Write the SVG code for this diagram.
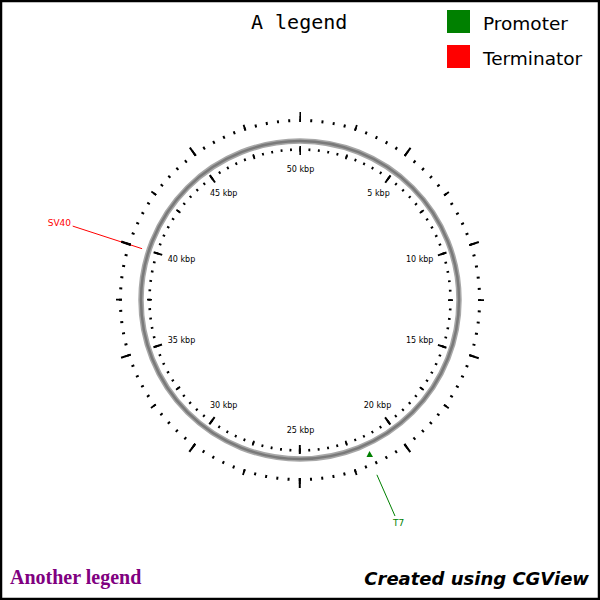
<svg xmlns="http://www.w3.org/2000/svg" width="600" height="600" viewBox="0 0 600 600">
<style>
.tk{fill:none;stroke:#000}
.lbl{font-family:"DejaVu Sans",sans-serif;font-size:8px;fill:#000;text-anchor:middle}
.leg{font-family:"DejaVu Sans",sans-serif;font-size:18.5px;fill:#000}
.feat{font-family:"DejaVu Sans",sans-serif;font-size:9px}
</style>
<rect x="0" y="0" width="600" height="600" fill="#fff"/>
<rect x="1" y="1" width="598" height="598" fill="none" stroke="#000" stroke-width="2.5"/>

<g id="legend-title">
<text x="251" y="29" font-family="'DejaVu Sans Mono',monospace" font-size="20" fill="#000">A legend</text>
</g>
<g id="legend-promoter">
<rect x="447" y="10" width="23" height="23" fill="#008000"/>
<text class="leg" x="483" y="30">Promoter</text>
</g>
<g id="legend-terminator">
<rect x="447" y="45" width="23" height="23" fill="#ff0000"/>
<text class="leg" x="483" y="65">Terminator</text>
</g>
<g id="legend-another">
<text x="10" y="584" font-family="'Liberation Serif',serif" font-weight="bold" font-size="20" fill="#800080">Another legend</text>
</g>
<g id="legend-created">
<text x="589" y="585" text-anchor="end" font-family="'DejaVu Sans',sans-serif" font-weight="bold" font-style="italic" font-size="18" fill="#000">Created using CGView</text>
</g>

<g id="backbone">
<circle cx="300" cy="300" r="159" fill="none" stroke="#a8a8a8" stroke-width="5.5"/>
<circle cx="300" cy="300" r="159" fill="none" stroke="#7a7a7a" stroke-width="2.5"/>
</g>

<g id="ticks" transform="rotate(-90 300 300)">
<circle class="tk" cx="300" cy="300" r="150.5" stroke-width="2.6" stroke-dasharray="1.9 7.55619" stroke-dashoffset="0.95"/>
<circle class="tk" cx="300" cy="300" r="150.5" stroke-width="5" stroke-dasharray="1.7 45.581" stroke-dashoffset="0.85"/>
<circle class="tk" cx="300" cy="300" r="149.5" stroke-width="9" stroke-dasharray="2 91.9336" stroke-dashoffset="1"/>
<circle class="tk" cx="300" cy="300" r="179.6" stroke-width="3" stroke-dasharray="2 9.2844" stroke-dashoffset="1"/>
<circle class="tk" cx="300" cy="300" r="181" stroke-width="6" stroke-dasharray="1.8 55.0629" stroke-dashoffset="0.9"/>
<circle class="tk" cx="300" cy="300" r="183" stroke-width="10" stroke-dasharray="2 112.9823" stroke-dashoffset="1"/>
</g>

<g id="tick-labels">
<text class="lbl" x="300.5" y="172">50 kbp</text>
<text class="lbl" x="378.5" y="196">5 kbp</text>
<text class="lbl" x="419.7" y="262">10 kbp</text>
<text class="lbl" x="419.7" y="343">15 kbp</text>
<text class="lbl" x="377.5" y="408">20 kbp</text>
<text class="lbl" x="300.5" y="433">25 kbp</text>
<text class="lbl" x="223.7" y="408">30 kbp</text>
<text class="lbl" x="181.5" y="343">35 kbp</text>
<text class="lbl" x="181.5" y="262">40 kbp</text>
<text class="lbl" x="223.7" y="196">45 kbp</text>
</g>

<g id="connectors">
<line x1="142.1" y1="248.7" x2="72.7" y2="226.1" stroke="#ff0000" stroke-width="1"/>
<line x1="376.9" y1="474.8" x2="395" y2="516" stroke="#008000" stroke-width="1"/>
</g>
<g id="ticks-over">
<line x1="130.7" y1="245" x2="121.2" y2="241.9" stroke="#000" stroke-width="2"/>
</g>

<g id="feature-SV40">
<text class="feat" x="71" y="226" text-anchor="end" fill="#ff0000">SV40</text>
</g>
<g id="feature-T7">
<polygon points="369.5,451 366.5,457 373,457" fill="#008000"/>
<text class="feat" x="398.7" y="526" text-anchor="middle" fill="#008000">T7</text>
</g>
</svg>
